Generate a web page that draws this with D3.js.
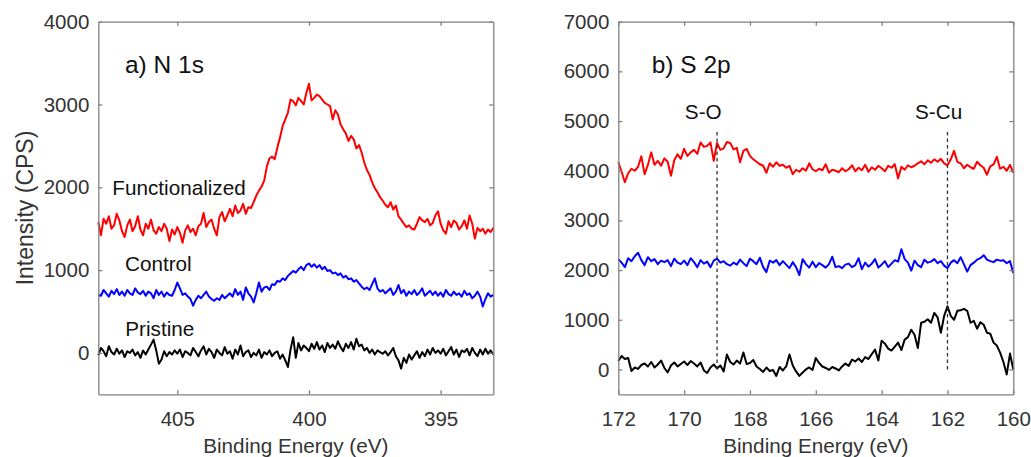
<!DOCTYPE html>
<html>
<head>
<meta charset="utf-8">
<script src="https://cdnjs.cloudflare.com/ajax/libs/d3/7.8.5/d3.min.js"></script>
<style>
  body { margin: 0; background: #fff; }
  svg text { font-family: "Liberation Sans", Arial, sans-serif; }
</style>
</head>
<body>
<div id="chart"></div>
<script>
// ---- data ----
// N 1s: 408.0 -> 393.0 eV, 0.1 eV step
var n1sEnergy = d3.range(0, 151).map(i => +(408 - i * 0.1).toFixed(1));

var n1sFunctionalized = [
  1580, 1420, 1620, 1560, 1650, 1500, 1540, 1680, 1600, 1470,
  1400, 1540, 1610, 1470, 1530, 1650, 1490, 1420, 1560, 1500,
  1610, 1480, 1440, 1520, 1470, 1560, 1500, 1350, 1490, 1430,
  1520, 1450, 1330, 1480, 1540, 1460, 1500, 1420, 1530, 1560,
  1690, 1520, 1580, 1610, 1500, 1420, 1640, 1700, 1590, 1660,
  1740, 1650, 1780, 1690, 1720, 1800, 1680, 1760, 1750, 1820,
  1900, 1960, 2010, 2080, 2250, 2350, 2370, 2340, 2480, 2600,
  2740, 2820, 2900, 3060, 3040, 2990, 3080, 3040, 3000, 3140,
  3250, 3050, 3080, 3120, 3100, 3060, 3020, 3000, 2980, 2820,
  2930, 2880, 2760, 2700, 2650, 2560, 2620, 2580, 2470, 2510,
  2420, 2300, 2210, 2150, 2060, 1990, 1940, 1880, 1840, 1790,
  1760, 1820, 1730, 1780, 1650, 1610, 1560, 1520, 1540, 1500,
  1490, 1560, 1640, 1600, 1580, 1620, 1540, 1570, 1660, 1710,
  1560, 1480, 1440, 1590, 1520, 1600, 1570, 1490, 1530, 1600,
  1500, 1660, 1560, 1380, 1510, 1470, 1500, 1440, 1490, 1460, 1510
];

var n1sControl = [
  700, 690, 760, 720, 680, 750, 710, 770, 700, 740,
  690, 760, 720, 700, 780, 730, 710, 750, 690, 740,
  720, 660, 760, 700, 740, 680, 730, 700, 690, 760,
  850, 780, 700, 720, 680, 650, 570, 640, 690, 660,
  700, 740, 680, 650, 630, 660, 640, 700, 660, 690,
  720, 680, 770, 700, 740, 640, 790, 720, 680, 610,
  720, 850, 740, 790, 800, 760, 830, 820, 870, 860,
  900, 880, 930, 960, 990, 970, 1010, 1040, 1000, 1060,
  1080, 1040, 1070, 1030, 1060, 1010, 1040, 990, 1000, 960,
  970, 940, 960, 910, 930, 890, 900, 860, 880, 840,
  800, 770, 790, 760, 830, 900, 780, 740, 760, 720,
  750, 780, 700, 740, 820, 720, 760, 690, 740, 710,
  760, 700, 730, 780, 690, 720, 750, 700, 740, 690,
  730, 680, 760, 710, 690, 740, 700, 720, 680, 750,
  700, 720, 660, 690, 740, 680, 560, 650, 720, 680, 700
];

var n1sPristine = [
  -30, 60, 20, -40, 80, 10, -20, 50, -10, 30,
  -50, 20, 0, 40, -30, 10, -60, 30, -20, 40,
  100, 160, 30, -130, -80, 20, -40, 10, -20, 30,
  -10, 40, -50, 20, 0, -30, 60, 10, -40, 30,
  80, -20, 50, 10, -60, 40, 0, -30, 70, -10,
  20, -70, 40, -20, 90, -40, 10, 30, -50, 0,
  -30, 40, -60, 10, -20, 30, -40, 0, 20, -70,
  -20, -90, -170, 40, 190, -60, 120, 30, 90, 60,
  20, 110, 50, 130, 40, 90, 10, 120, 60, 100,
  50, 140, 70, 20, 110, 60, 130, 40, 170, 80,
  100, 30, 60, 0, 40, -20, 30, 10, -10, 20,
  -30, 10, 60, -40, -90, -190, -60, -120, -20, -80,
  -30, 20, -60, 10, -40, 40, -20, 60, 0, 30,
  -10, 50, -30, 20, 70, -20, 40, -50, 30, 10,
  50, -30, 60, 0, -40, 40, -20, 50, -10, 30, -20
];

// S 2p: 172.0 -> 160.0 eV, 0.1 eV step
var s2pEnergy = d3.range(0, 121).map(i => +(172 - i * 0.1).toFixed(1));

var s2pFunctionalized = [
  4170, 3980, 3770, 3950, 4040, 4000, 4080, 4290, 3930, 4120,
  4370, 4120, 4200, 4100, 4250, 4180, 3900, 4210, 4330, 4240,
  4440, 4300, 4370, 4420, 4340, 4570, 4480, 4500, 4570, 4200,
  4560, 4420, 4450, 4580, 4560, 4430, 4460, 4170, 4400, 4440,
  4300, 4230, 4180, 4130, 4100, 3960, 4150, 4080, 4170, 4100,
  4120, 4060, 4100, 3930, 4020, 3980, 4050, 4000, 4150, 4030,
  3990, 4040, 4010, 4130, 3960, 4020, 4000, 3970, 4050, 3990,
  4030, 4110, 3990, 4060, 4010, 4120, 3980, 4070, 4020, 4100,
  4050, 3990, 4100, 4060, 4130, 3850, 4080, 4020, 4110, 4070,
  4100, 4150, 4190, 4130, 4210, 4160, 4230, 4180, 4240, 4150,
  4110, 4230, 4400, 4180, 4150, 4050, 4120, 4070, 4040, 4180,
  4110, 4060, 3920, 4090, 4130, 4280, 4040, 4080, 4000, 4120, 3960
];

var s2pControl = [
  2220, 2150, 2060, 2240, 2180, 2280, 2350, 2200, 2100, 2260,
  2180, 2220, 2120, 2190, 2160, 2200, 2080, 2230, 2150, 2120,
  2190, 2100, 2240, 2160, 2060, 2200, 2130, 2170, 2060, 2190,
  2230, 2150, 2180, 2120, 2090, 2150, 2110, 2210, 2140, 2080,
  2230, 2180, 2120, 2250, 2060, 1960, 2190, 2150, 2200, 2100,
  2180, 2110, 2040, 2160, 2060, 1900, 2220, 2120, 2050, 2170,
  2060, 2140, 2100, 2050, 2120, 2270, 2060, 2080, 2040, 2110,
  2130, 2060, 2100, 2240, 2020, 2150, 2070, 2130, 2220, 2050,
  2110, 2180, 2060, 2130, 2200, 2170, 2420, 2220, 2150, 1990,
  2190, 2100, 2060, 2210, 2150, 2170, 2220, 2140, 2180, 2090,
  2040, 2150, 2200, 2140, 2260, 2120, 1970, 2100, 2150, 2210,
  2240, 2300, 2210, 2180, 2160, 2210, 2190, 2200, 2140, 2180, 1940
];

var s2pPristine = [
  170, 270, 210, 230, -30, 40, 10, 90, 120, 60,
  150, 40, 100, 180, 30, -60, 80, 140, 60, 110,
  160, 90, 170, 120, 60, 140, -20, -70, 40, 100,
  20, 80, -40, 300, 150, 100, 180, 120, 340, 110,
  130, 190, 60, 10, -50, 40, -30, -10, -130, 50,
  -20, 60, 300, 80, -40, -130, -60, 0, 40, -10,
  230, 130, 60, 30, -10, 50, 20, -20, 60, 120,
  70, 200, 160, 220, 150, 250, 210, 310, 400, 180,
  580, 520, 420, 380, 460, 540, 390, 600, 650, 800,
  700, 430, 940, 960, 1010, 940, 1140, 1050, 740, 1080,
  1270, 1080, 1000, 1180, 1190, 1220, 1180, 940, 980, 820,
  950, 900, 740, 720, 540, 480, 340, 150, -100, 320, 0
];

// reference lines in panel b
var peakNames = ["S-O", "S-Cu"];
var peakEnergies = [169, 162];
var peakLabelEnergies = [169.42, 162.27];

var seriesColors = ["#ff0000", "#0000ff", "#000000"];

// ---- layout ----
var svgWidth = 1031;
var svgHeight = 457;
var plotHeight = 372.6;
var plotWidth = 395;
var plotTop = 21.7;

var svg = d3.select("#chart")
  .append("svg")
  .attr("width", svgWidth)
  .attr("height", svgHeight);

function drawPanel(opt) {
  var g = svg.append("g")
    .attr("transform", `translate(${opt.left}, ${plotTop})`);

  var x = d3.scaleLinear().domain(opt.xDomain).range([0, plotWidth]);
  var y = d3.scaleLinear().domain(opt.yDomain).range([plotHeight, 0]);

  // series
  var line = d3.line()
    .x(d => x(d[0]))
    .y(d => y(d[1]));

  opt.series.forEach(function(vals, k) {
    g.append("path")
      .datum(vals.map((v, i) => [opt.energy[i], v]))
      .attr("fill", "none")
      .attr("stroke", seriesColors[k])
      .attr("stroke-width", 2)
      .attr("stroke-linejoin", "round")
      .attr("d", line);
  });

  // axes: ticks inside, box on all sides
  var fmt = d3.format("d");
  var bottomAxis = d3.axisBottom(x).tickValues(opt.xTicks).tickFormat(fmt).tickSizeInner(-4).tickSizeOuter(0).tickPadding(17);
  var leftAxis = d3.axisLeft(y).tickValues(opt.yTicks).tickFormat(fmt).tickSizeInner(-4).tickSizeOuter(0).tickPadding(9);
  var topAxis = d3.axisTop(x).tickValues(opt.xTicks).tickSizeInner(-4).tickSizeOuter(0).tickFormat("");
  var rightAxis = d3.axisRight(y).tickValues(opt.yTicks).tickSizeInner(-4).tickSizeOuter(0).tickFormat("");

  var axes = [
    g.append("g").attr("transform", `translate(0, ${plotHeight})`).call(bottomAxis),
    g.append("g").call(leftAxis),
    g.append("g").call(topAxis),
    g.append("g").attr("transform", `translate(${plotWidth}, 0)`).call(rightAxis)
  ];
  axes.forEach(function(a) {
    a.select(".domain").attr("stroke", "#808080").attr("stroke-width", 1.3);
    a.selectAll(".tick line").attr("stroke", "#808080").attr("stroke-width", 1.3);
    a.selectAll(".tick text")
      .attr("fill", "#333")
      .style("font-size", "20.5px");
  });

  // x label
  g.append("text")
    .attr("x", plotWidth / 2)
    .attr("y", 431)
    .attr("text-anchor", "middle")
    .attr("fill", "#333")
    .style("font-size", "20.7px")
    .text("Binding Energy (eV)");

  // panel title
  g.append("text")
    .attr("x", opt.titleX)
    .attr("y", 51)
    .attr("fill", "#111")
    .style("font-size", "24.5px")
    .text(opt.title);

  return {g: g, x: x, y: y};
}

// panel a
var pa = drawPanel({
  left: 98.3,
  energy: n1sEnergy,
  series: [n1sFunctionalized, n1sControl, n1sPristine],
  xDomain: [408, 393],
  yDomain: [-500, 4000],
  xTicks: [405, 400, 395],
  yTicks: [0, 1000, 2000, 3000, 4000],
  title: "a) N 1s",
  titleX: 26.7
});

var sampleNames = ["Functionalized", "Control", "Pristine"];
var sampleLabelPos = [[14, 173.6], [26.7, 249], [27, 314.5]];
sampleNames.forEach(function(name, k) {
  pa.g.append("text")
    .attr("x", sampleLabelPos[k][0])
    .attr("y", sampleLabelPos[k][1])
    .attr("fill", "#111")
    .style("font-size", "20.7px")
    .text(name);
});

// y label
svg.append("text")
  .attr("transform", "translate(33, 208) rotate(-90)")
  .attr("text-anchor", "middle")
  .attr("fill", "#333")
  .style("font-size", "23px")
  .text("Intensity (CPS)");

// panel b
var pb = drawPanel({
  left: 618.3,
  energy: s2pEnergy,
  series: [s2pFunctionalized, s2pControl, s2pPristine],
  xDomain: [172, 160],
  yDomain: [-500, 7000],
  xTicks: [172, 170, 168, 166, 164, 162, 160],
  yTicks: [0, 1000, 2000, 3000, 4000, 5000, 6000, 7000],
  title: "b) S 2p",
  titleX: 33.4
});

peakEnergies.forEach(function(e, k) {
  pb.g.append("line")
    .attr("x1", pb.x(e))
    .attr("x2", pb.x(e))
    .attr("y1", pb.y(0))
    .attr("y2", pb.y(4780))
    .attr("stroke", "#333")
    .attr("stroke-width", 1.3)
    .attr("stroke-dasharray", "3.5,3");

  pb.g.append("text")
    .attr("x", pb.x(peakLabelEnergies[k]))
    .attr("y", 97.3)
    .attr("text-anchor", "middle")
    .attr("fill", "#111")
    .style("font-size", "20.7px")
    .text(peakNames[k]);
});
</script>
</body>
</html>
